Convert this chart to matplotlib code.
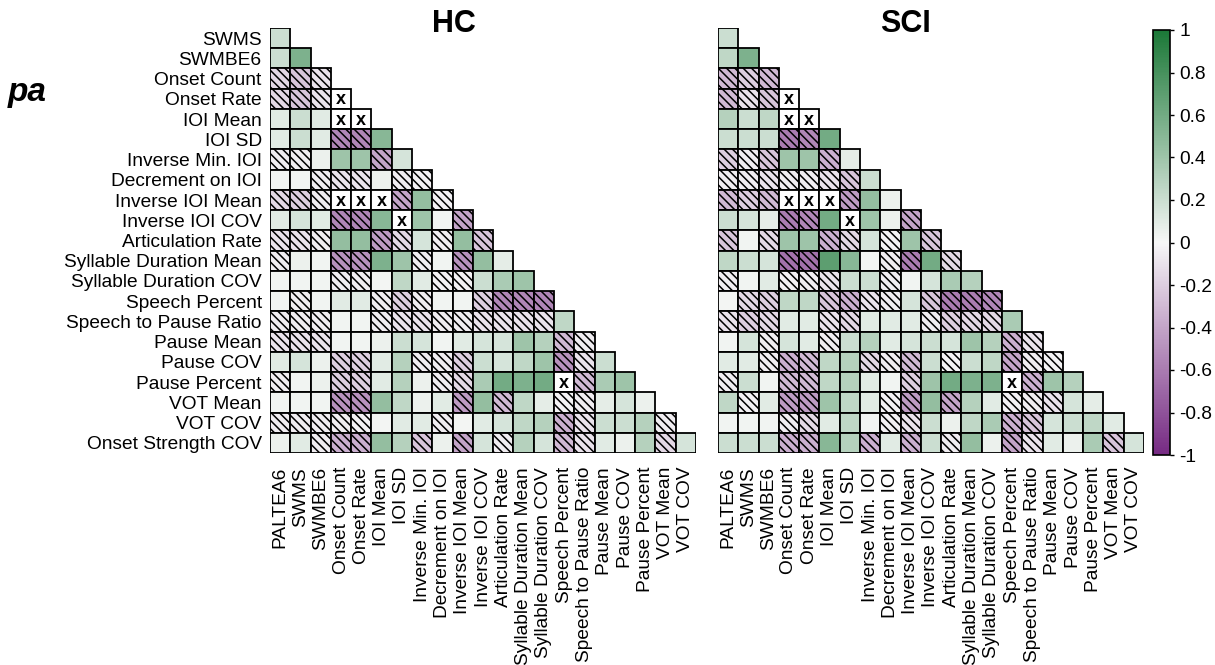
import numpy as np
import matplotlib
matplotlib.use("Agg")
import matplotlib.pyplot as plt
from matplotlib.colors import LinearSegmentedColormap, Normalize
from matplotlib.patches import Rectangle
from matplotlib.cm import ScalarMappable

plt.rcParams["font.family"] = ["Liberation Sans", "DejaVu Sans"]
plt.rcParams["axes.unicode_minus"] = False
plt.rcParams["hatch.linewidth"] = 1.1

nan = np.nan

# column variables (x axis) and row variables (y axis)
col_labels = ["PALTEA6", "SWMS", "SWMBE6", "Onset Count", "Onset Rate", "IOI Mean",
              "IOI SD", "Inverse Min. IOI", "Decrement on IOI", "Inverse IOI Mean",
              "Inverse IOI COV", "Articulation Rate", "Syllable Duration Mean",
              "Syllable Duration COV", "Speech Percent", "Speech to Pause Ratio",
              "Pause Mean", "Pause COV", "Pause Percent", "VOT Mean", "VOT COV"]
row_labels = col_labels[1:] + ["Onset Strength COV"]

# lower-triangle correlations, one list per row (nan = undefined, drawn as "x")
hc_rows = [
    [0.2],
    [0.2, 0.55],
    [-0.15, -0.25, -0.1],
    [-0.15, -0.25, -0.1, nan],
    [0.1, 0.2, 0.1, nan, nan],
    [0.1, 0.2, 0.1, -0.55, -0.55, 0.5],
    [-0.05, -0.05, 0.05, 0.4, 0.4, -0.4, 0.15],
    [0.03, 0.03, -0.05, -0.1, -0.1, 0.05, -0.05, -0.03],
    [-0.15, -0.2, -0.05, nan, nan, nan, -0.4, 0.45, -0.03],
    [0.1, 0.15, 0.1, -0.55, -0.55, 0.5, nan, 0.4, 0.03, -0.4],
    [-0.1, -0.1, -0.05, 0.45, 0.45, -0.45, -0.15, 0.15, -0.05, 0.45, -0.25],
    [-0.05, 0.05, 0.03, -0.5, -0.5, 0.55, 0.4, -0.05, 0.03, -0.5, 0.45, 0.08],
    [0.03, 0.03, 0.03, -0.05, -0.05, 0.02, 0.25, 0.1, -0.03, -0.03, 0.2, 0.35, 0.4],
    [0.03, -0.05, 0.03, 0.1, 0.1, -0.05, -0.2, -0.05, 0.03, 0.03, -0.2, -0.55, -0.55, -0.55],
    [-0.05, -0.05, -0.05, 0.03, 0.03, -0.05, -0.1, -0.1, -0.05, -0.05, -0.1, -0.1, -0.1, -0.1, 0.25],
    [-0.1, -0.1, -0.1, 0.03, 0.03, 0.05, 0.2, 0.15, 0.03, 0.1, 0.15, 0.15, 0.4, 0.3, -0.3, -0.05],
    [0.1, 0.15, 0.05, -0.2, -0.2, 0.1, 0.3, -0.05, -0.05, -0.2, 0.2, 0.15, 0.25, 0.4, -0.5, -0.1, 0.2],
    [-0.05, 0.03, 0.05, -0.2, -0.2, 0.1, 0.3, 0.05, -0.05, -0.15, 0.35, 0.6, 0.55, 0.6, nan, -0.3, 0.35, 0.4],
    [0.03, 0.03, 0.03, -0.5, -0.5, 0.45, 0.25, 0.05, 0.1, -0.45, 0.45, -0.3, 0.25, 0.08, -0.02, -0.05, 0.08, 0.15, 0.05],
    [-0.05, -0.05, -0.05, -0.05, -0.03, 0.02, 0.1, 0.1, -0.05, 0.02, 0.1, 0.15, 0.25, 0.3, -0.35, -0.1, 0.2, 0.2, 0.3, -0.05],
    [0.05, 0.1, -0.05, -0.35, -0.35, 0.45, 0.3, -0.25, 0.05, -0.4, 0.15, -0.05, 0.3, 0.15, -0.3, -0.1, 0.1, 0.05, 0.3, -0.15, 0.15],
]

sci_rows = [
    [0.2],
    [0.25, 0.55],
    [-0.3, -0.2, -0.3],
    [-0.3, -0.1, -0.25, nan],
    [0.3, 0.2, 0.25, nan, nan],
    [0.2, 0.2, 0.2, -0.6, -0.55, 0.6],
    [-0.2, -0.05, -0.25, 0.4, 0.4, -0.35, 0.08],
    [-0.05, -0.05, -0.1, -0.05, -0.05, -0.1, -0.25, 0.2],
    [-0.3, -0.2, -0.3, nan, nan, nan, -0.45, 0.45, 0.05],
    [0.2, 0.15, 0.08, -0.6, -0.55, 0.6, nan, 0.4, 0.05, -0.4],
    [-0.25, 0.03, -0.15, 0.4, 0.4, -0.35, -0.15, 0.15, -0.02, 0.4, -0.25],
    [0.25, 0.2, 0.15, -0.65, -0.65, 0.7, 0.5, 0.02, -0.05, -0.6, 0.6, -0.15],
    [-0.05, 0.03, 0.1, -0.03, -0.05, -0.1, 0.2, 0.2, -0.05, 0.03, 0.15, 0.35, 0.3],
    [0.02, -0.15, -0.2, 0.25, 0.25, -0.25, -0.35, -0.1, -0.05, 0.15, -0.25, -0.6, -0.6, -0.55],
    [-0.1, -0.2, -0.15, 0.1, 0.1, -0.1, -0.15, 0.1, 0.1, 0.1, -0.05, -0.2, -0.15, -0.15, 0.35],
    [0.03, 0.15, -0.05, 0.15, 0.1, -0.05, 0.2, 0.3, 0.1, 0.15, 0.2, 0.15, 0.4, 0.3, -0.35, -0.1],
    [0.1, 0.1, -0.05, -0.35, -0.3, 0.25, 0.3, -0.15, -0.05, -0.3, 0.2, -0.02, 0.2, 0.25, -0.4, -0.05, -0.02],
    [-0.05, 0.2, 0.03, -0.3, -0.3, 0.25, 0.3, 0.1, 0.03, -0.2, 0.4, 0.6, 0.55, 0.55, nan, -0.35, 0.4, 0.3],
    [0.25, -0.03, 0.1, -0.45, -0.45, 0.4, 0.25, 0.1, -0.03, -0.45, 0.45, -0.4, 0.3, 0.1, -0.03, -0.05, -0.1, 0.15, 0.08],
    [0.03, 0.03, 0.03, -0.05, -0.15, 0.1, 0.25, 0.03, -0.03, -0.1, 0.2, 0.05, 0.25, 0.35, -0.35, -0.25, 0.15, 0.2, 0.25, 0.1],
    [0.2, 0.2, 0.2, -0.35, -0.35, 0.5, 0.3, -0.35, 0.1, -0.35, 0.2, -0.05, 0.45, 0.05, -0.4, -0.1, 0.1, 0.05, 0.35, -0.25, 0.15],
]

cmap = LinearSegmentedColormap.from_list("pg", ["#762a83", "#f7f7f7", "#1b7837"])
norm = Normalize(vmin=-1, vmax=1)
FS = 13.8


def draw_triangle(ax, rows, show_ylabels):
    n = len(col_labels)
    for r, vals in enumerate(rows):
        for c, v in enumerate(vals):
            if np.isnan(v):
                ax.add_patch(Rectangle((c - 0.5, r - 0.5), 1, 1, facecolor="white",
                                       edgecolor="black", lw=1.3))
                ax.text(c, r + 0.05, "x", ha="center", va="center", fontsize=13,
                        fontweight="bold")
            else:
                ax.add_patch(Rectangle((c - 0.5, r - 0.5), 1, 1, facecolor=cmap(norm(v)),
                                       edgecolor="black", lw=1.3,
                                       hatch="\\\\\\\\" if v < 0 else None))
    ax.set_xlim(-0.5, n - 0.5)
    ax.set_ylim(len(rows) - 0.5, -0.5)
    ax.set_xticks(range(n))
    ax.set_xticklabels(col_labels, rotation=90, fontsize=FS)
    ax.set_yticks(range(len(rows)))
    if show_ylabels:
        ax.set_yticklabels(row_labels, fontsize=FS)
    else:
        ax.set_yticklabels([])
    ax.tick_params(length=0)
    ax.tick_params(axis="x", pad=10)
    ax.tick_params(axis="y", pad=6)
    for s in ax.spines.values():
        s.set_visible(False)


fig = plt.figure(figsize=(12.15, 6.65), dpi=100)
W, H = 1215, 665
ax_hc = fig.add_axes([270 / W, 1 - 453 / H, 426 / W, 425 / H])
ax_sci = fig.add_axes([718 / W, 1 - 453 / H, 426 / W, 425 / H])
draw_triangle(ax_hc, hc_rows, True)
draw_triangle(ax_sci, sci_rows, False)

fig.text(454 / W, 1 - 24 / H, "HC", ha="center", va="center", fontsize=22, fontweight="bold")
fig.text(905 / W, 1 - 24 / H, "SCI", ha="center", va="center", fontsize=22, fontweight="bold")
fig.text(8 / W, 1 - 92 / H, "pa", ha="left", va="center", fontsize=24,
         fontweight="bold", fontstyle="italic")

cax = fig.add_axes([1153 / W, 1 - 455 / H, 17 / W, 425 / H])
sm = ScalarMappable(norm=norm, cmap=cmap)
cb = fig.colorbar(sm, cax=cax, ticks=np.linspace(-1, 1, 11))
cb.ax.set_yticklabels([f"{t:g}" for t in np.round(np.linspace(-1, 1, 11), 1)], fontsize=FS)
cb.outline.set_linewidth(1.2)
cb.ax.tick_params(length=3, width=1)

fig.savefig("out.png", dpi=100)
